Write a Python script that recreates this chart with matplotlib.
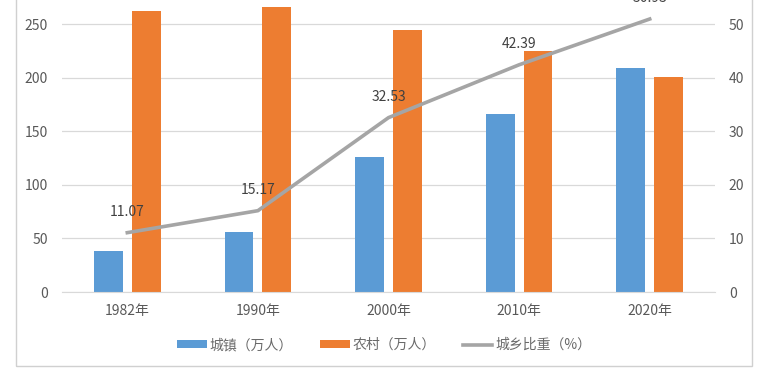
import matplotlib.pyplot as plt
from matplotlib.patches import Rectangle
import numpy as np

plt.rcParams['font.family'] = ['Noto Sans CJK SC', 'DejaVu Sans']

# data
years = ['1982年', '1990年', '2000年', '2010年', '2020年']
urban = [38, 56, 126, 166, 209]          # 城镇（万人）
rural = [262, 272, 244, 225, 201]        # 农村（万人）
ratio = [11.07, 15.17, 32.53, 42.39, 50.93]  # 城乡比重（%）

blue = '#5B9BD5'
orange = '#ED7D31'
gray = '#A5A5A5'
txt = '#595959'

fig = plt.figure(figsize=(7.78, 3.76), dpi=100)
ax = fig.add_axes([62 / 778, 1 - 292 / 376, (715 - 62) / 778, (292 - 7) / 376])
ax2 = ax.twinx()

x = np.arange(len(years))
w = 0.22
ax.bar(x - 0.145, urban, w, color=blue, label='城镇（万人）', zorder=2)
ax.bar(x + 0.145, rural, w, color=orange, label='农村（万人）', zorder=2)

ymax = (292 - 7) / 268 * 250
ax.set_ylim(0, ymax)
ax.set_xlim(-0.5, len(years) - 0.5)
ax.set_yticks([0, 50, 100, 150, 200, 250])
ax.grid(axis='y', color='#D9D9D9', lw=0.9, zorder=0)
ax.set_axisbelow(True)
ax.set_xticks(x)
ax.set_xticklabels(years)

ax2.plot(x, ratio, color=gray, lw=2.6, label='城乡比重（%）', zorder=3)
ax2.set_ylim(0, ymax / 5)
ax2.set_yticks([0, 10, 20, 30, 40, 50])
for xi, v in zip(x, ratio):
    ax2.annotate('%.2f' % v, (xi, v), xytext=(0, 15), textcoords='offset points',
                 ha='center', va='center', fontsize=10, color='#404040',
                 annotation_clip=False)

for a in (ax, ax2):
    for s in a.spines.values():
        s.set_visible(False)
    a.tick_params(length=0, labelsize=10, colors=txt)
ax.spines['bottom'].set_visible(True)
ax.spines['bottom'].set_color('#D9D9D9')
ax.tick_params(axis='x', pad=9)
ax.tick_params(axis='y', pad=10)
ax2.tick_params(axis='y', pad=10)

h1, l1 = ax.get_legend_handles_labels()
h2, l2 = ax2.get_legend_handles_labels()
fig.legend(h1 + h2, l1 + l2, loc='center', bbox_to_anchor=(0.494, 1 - 345 / 376),
           ncol=3, frameon=False, fontsize=10, labelcolor='#6a6a6a',
           handlelength=2.1, handleheight=0.45, handletextpad=0.2, columnspacing=2.0)

# outer chart frame
fig.patches.append(Rectangle((16 / 778, 1 - 366 / 376), (752 - 16) / 778, 366 / 376 + 0.05,
                             transform=fig.transFigure, fill=False, ec='#D0D0D0', lw=1))

fig.savefig('out.png', dpi=100)
